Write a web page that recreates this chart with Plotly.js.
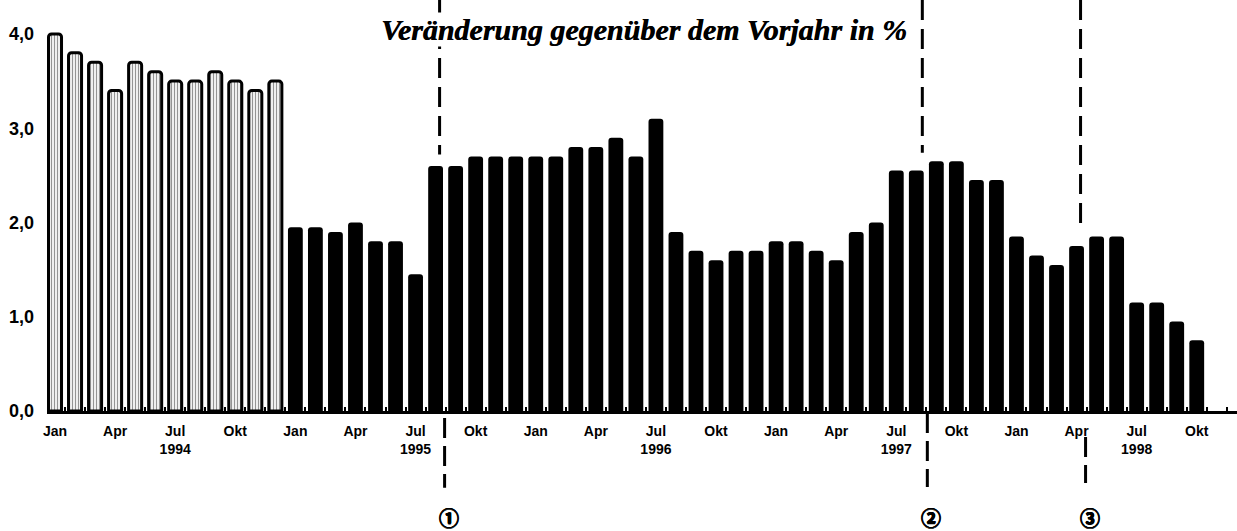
<!DOCTYPE html>
<html>
<head>
<meta charset="utf-8">
<script src="https://cdn.plot.ly/plotly-3.0.1.min.js"></script>
<style>
html,body{margin:0;padding:0;background:#fff;}
#chart{width:1237px;height:531px;}
</style>
</head>
<body>
<div id="chart"></div>
<script>
// Veränderung gegenüber dem Vorjahr in % (monthly, Jan 1994 – Okt 1998)
const vals1994 = [4.0, 3.8, 3.7, 3.4, 3.7, 3.6, 3.5, 3.5, 3.6, 3.5, 3.4, 3.5];
const vals1995 = [1.95, 1.95, 1.9, 2.0, 1.8, 1.8, 1.45, 2.6, 2.6, 2.7, 2.7, 2.7];
const vals1996 = [2.7, 2.7, 2.8, 2.8, 2.9, 2.7, 3.1, 1.9, 1.7, 1.6, 1.7, 1.7];
const vals1997 = [1.8, 1.8, 1.7, 1.6, 1.9, 2.0, 2.55, 2.55, 2.65, 2.65, 2.45, 2.45];
const vals1998 = [1.85, 1.65, 1.55, 1.75, 1.85, 1.85, 1.15, 1.15, 0.95, 0.75];

const monthNames = ["Jan","Feb","Mär","Apr","Mai","Jun","Jul","Aug","Sep","Okt","Nov","Dez"];
const years = [1994, 1995, 1996, 1997, 1998];
const quarterLabels = ["Jan","Apr","Jul","Okt"];
const yTickVals = [0, 1, 2, 3, 4];
const yTickText = ["0,0","1,0","2,0","3,0","4,0"];
const titleText = "Veränderung gegenüber dem Vorjahr in %";

// event markers (month index position, label)
const eventPos = [19.2, 43.3, 51.2];
const eventTopEnd = [2.72, 2.74, 1.95];
const eventLabels = ["①","②","③"];

// build x positions
const allVals = [].concat(vals1994, vals1995, vals1996, vals1997, vals1998);
const xIdx = allVals.map((_, i) => i);
const x1994 = xIdx.slice(0, 12);
const xRest = xIdx.slice(12);
const yRest = allVals.slice(12);
const hoverNames = xIdx.map(i => monthNames[i % 12] + " " + years[Math.floor(i / 12)]);

const tickVals = [], tickText = [];
for (let i = 0; i < allVals.length; i += 3) {
  tickVals.push(i);
  const q = quarterLabels[(i % 12) / 3];
  tickText.push(q === "Jul" ? "Jul<br>" + years[Math.floor(i / 12)] : q);
}

const heavy = "0.5px 0 0 #000, -0.5px 0 0 #000, 0 0.5px 0 #000, 0 -0.5px 0 #000";

const traces = [
  {
    type: "bar", x: x1994, y: vals1994, width: 0.65,
    text: hoverNames.slice(0, 12), hoverinfo: "text+y", textposition: "none",
    marker: {
      color: "#ececec",
      line: {color: "#000", width: 3},
      pattern: {shape: "|", fgcolor: "#8a8a8a", bgcolor: "#efefef", size: 3, solidity: 0.3},
      cornerradius: 3
    }
  },
  {
    type: "bar", x: xRest, y: yRest, width: 0.74,
    text: hoverNames.slice(12), hoverinfo: "text+y", textposition: "none",
    marker: {color: "#000", line: {width: 0}, cornerradius: 3}
  }
];

const shapes = [];
const annotations = [];
eventPos.forEach((p, k) => {
  shapes.push({type: "line", xref: "x", yref: "y", x0: p, x1: p, y0: 4.36, y1: eventTopEnd[k],
    line: {color: "#000", width: 3, dash: "20px,9px"}, layer: "below"});
});
// lower segments below the axis
const lowTop = [-0.017, -0.005, -0.063];
const lowBot = [-0.187, -0.185, -0.175];
eventPos.forEach((p, k) => {
  shapes.push({type: "line", xref: "x", yref: "paper", x0: p + 0.25, x1: p + 0.25, y0: lowTop[k], y1: lowBot[k],
    line: {color: "#000", width: 3, dash: "20px,8px"}});
  annotations.push({xref: "x", yref: "paper", x: p + 0.45, y: -0.258, text: eventLabels[k], showarrow: false,
    font: {family: "Noto Sans CJK JP", size: 20, color: "#000", weight: "bold", shadow: heavy},
    xanchor: "center", yanchor: "middle"});
});

annotations.push({
  xref: "paper", yref: "paper", x: 0.5017, y: 1 - 29 / 411, xanchor: "center", yanchor: "middle",
  text: "<b><i>" + titleText + "</i></b>", showarrow: false, bgcolor: "#fff", borderpad: 0,
  font: {family: "Liberation Serif", size: 30, color: "#000", shadow: "0.5px 0 0 #000"}
});

const layout = {
  width: 1237, height: 531,
  margin: {l: 47, r: 0, t: 0, b: 120},
  paper_bgcolor: "#fff", plot_bgcolor: "#fff",
  showlegend: false, barmode: "overlay",
  xaxis: {
    range: [-0.4, 59.01], tickmode: "array", tickvals: tickVals, ticktext: tickText,
    ticks: "", showgrid: false, zeroline: false,
    showline: true, linecolor: "#000", linewidth: 3,
    tickfont: {family: "Liberation Sans", size: 14, color: "#000", weight: "bold"},
    ticklabelstandoff: 5,
    minor: {tickmode: "linear", tick0: 0.5, dtick: 1, ticks: "inside", ticklen: 4, tickwidth: 2, tickcolor: "#000", showgrid: false}
  },
  yaxis: {
    range: [0, 4.36], tickmode: "array", tickvals: yTickVals, ticktext: yTickText,
    ticks: "", showgrid: false, zeroline: false, showline: false,
    tickfont: {family: "Liberation Sans", size: 18, color: "#000", weight: "bold"},
    ticklabelstandoff: 12
  },
  shapes: shapes,
  annotations: annotations
};

Plotly.newPlot("chart", traces, layout, {displayModeBar: false, staticPlot: true});
</script>
</body>
</html>
